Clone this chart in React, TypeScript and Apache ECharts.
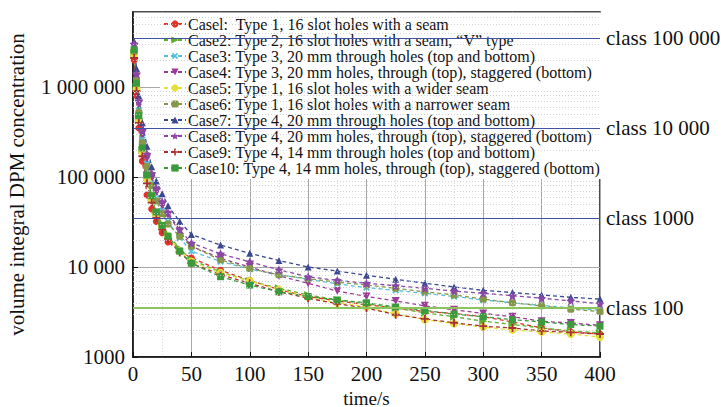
import React, { useEffect, useRef } from "react";
import * as echarts from "echarts";

// Sampling times (s) shared by all cases
const TIMES = [1, 3, 5, 8, 12, 16, 20, 25, 30, 40, 50, 75, 100, 125, 150, 175, 200, 225, 250, 275, 300, 325, 350, 375, 400];

const CASE_NAMES = [
  "Casel:  Type 1, 16 slot holes with a seam",
  "Case2: Type 2, 16 slot holes with a seam, \u201cV\u201d type",
  "Case3: Type 3, 20 mm through holes (top and bottom)",
  "Case4: Type 3, 20 mm holes, through (top), staggered (bottom)",
  "Case5: Type 1, 16 slot holes with a wider seam",
  "Case6: Type 1, 16 slot holes with a narrower seam",
  "Case7: Type 4, 20 mm through holes (top and bottom)",
  "Case8: Type 4, 20 mm holes, through (top), staggered (bottom)",
  "Case9: Type 4, 14 mm through holes (top and bottom)",
  "Case10: Type 4, 14 mm holes, through (top), staggered (bottom)",
];

// Volume integral DPM concentration per case, one value per entry of TIMES
const CASE1 = [2.0e6, 8e5, 3.5e5, 1.5e5, 6.3e4, 4.4e4, 3.2e4, 2.4e4, 1.9e4, 1.5e4, 1.26e4, 9.2e3, 7.1e3, 5.6e3, 4.7e3, 4.2e3, 3.8e3, 3.5e3, 3.2e3, 3.05e3, 2.8e3, 2.45e3, 2.1e3, 1.9e3, 1.8e3];
const CASE2 = [2.4e6, 1.0e6, 4.5e5, 2e5, 1e5, 6e4, 4e4, 3e4, 2.3e4, 1.6e4, 1.2e4, 8.8e3, 7.0e3, 5.8e3, 4.9e3, 4.3e3, 3.9e3, 3.5e3, 3.1e3, 2.8e3, 2.5e3, 2.3e3, 2.1e3, 1.95e3, 1.85e3];
const CASE3 = [2.6e6, 1.2e6, 5.5e5, 2.6e5, 1.4e5, 8.5e4, 5.8e4, 4.2e4, 3.2e4, 2.1e4, 1.5e4, 1.15e4, 9.5e3, 8.2e3, 7.3e3, 6.5e3, 5.9e3, 5.5e3, 5.1e3, 4.7e3, 4.3e3, 4.0e3, 3.75e3, 3.5e3, 3.3e3];
const CASE4 = [2.8e6, 1.3e6, 6.5e5, 3e5, 1.6e5, 1e5, 6.8e4, 4.8e4, 3.8e4, 2.5e4, 1.7e4, 1.25e4, 1.0e4, 8.0e3, 6.6e3, 5.4e3, 4.7e3, 4.2e3, 3.7e3, 3.35e3, 3.05e3, 2.8e3, 2.5e3, 2.38e3, 2.25e3];
const CASE5 = [2.3e6, 9.5e5, 4.2e5, 1.9e5, 9.5e4, 5.6e4, 3.8e4, 2.8e4, 2.2e4, 1.5e4, 1.15e4, 8.6e3, 7.0e3, 5.6e3, 4.6e3, 4.0e3, 3.6e3, 3.0e3, 2.6e3, 2.35e3, 2.15e3, 2.0e3, 1.9e3, 1.8e3, 1.67e3];
const CASE6 = [2.5e6, 1.2e6, 5.2e5, 2.4e5, 1.3e5, 8e4, 5.4e4, 3.9e4, 3.0e4, 2.2e4, 1.7e4, 1.2e4, 9.6e3, 8.2e3, 7.4e3, 6.8e3, 6.3e3, 5.8e3, 5.3e3, 4.9e3, 4.4e3, 4.0e3, 3.7e3, 3.4e3, 3.2e3];
const CASE7 = [3.2e6, 1.6e6, 8e5, 4e5, 2.2e5, 1.3e5, 9e4, 6.5e4, 4.8e4, 3.2e4, 2.3e4, 1.75e4, 1.42e4, 1.18e4, 1.0e4, 9.0e3, 8.1e3, 7.3e3, 6.6e3, 6.0e3, 5.5e3, 5.2e3, 4.9e3, 4.6e3, 4.4e3];
const CASE8 = [3.0e6, 1.4e6, 7e5, 3.3e5, 1.8e5, 1.1e5, 7.5e4, 5.3e4, 4.0e4, 2.6e4, 1.85e4, 1.4e4, 1.14e4, 9.3e3, 7.8e3, 7.1e3, 6.6e3, 6.2e3, 5.8e3, 5.4e3, 5.1e3, 4.8e3, 4.5e3, 4.2e3, 3.9e3];
const CASE9 = [2.1e6, 9e5, 4e5, 1.7e5, 8.5e4, 5.2e4, 3.5e4, 2.6e4, 2.05e4, 1.45e4, 1.1e4, 8.2e3, 6.6e3, 5.3e3, 4.5e3, 3.9e3, 3.5e3, 2.95e3, 2.65e3, 2.4e3, 2.2e3, 2.1e3, 1.95e3, 1.88e3, 1.8e3];
const CASE10 = [2.6e6, 1.1e6, 4.8e5, 2.1e5, 1.05e5, 6.2e4, 4.1e4, 2.9e4, 2.2e4, 1.5e4, 1.1e4, 7.8e3, 6.3e3, 5.3e3, 4.7e3, 4.3e3, 4.0e3, 3.6e3, 3.3e3, 3.0e3, 2.8e3, 2.6e3, 2.45e3, 2.3e3, 2.2e3];

const CASE_VALUES = [CASE1, CASE2, CASE3, CASE4, CASE5, CASE6, CASE7, CASE8, CASE9, CASE10];

// Cleanroom class limits (particles per m^3)
const CLASS_LABELS = ["class 100 000", "class 10 000", "class 1000", "class 100"];
const CLASS_LIMITS = [3520000, 352000, 35200, 3520];

// Minor (dotted) grid values inside each decade
const MINOR_Y = [2, 3, 4, 5, 6, 7, 8, 9].flatMap((m) => [1e3, 1e4, 1e5, 1e6].map((d) => m * d)).filter((v) => v < 6.8e6);

const FONT = "'Liberation Serif', 'Times New Roman', serif";

const STAR = "path://M0,-10L2.9,-4L9.5,-3.1L4.8,1.5L5.9,8.1L0,5L-5.9,8.1L-4.8,1.5L-9.5,-3.1L-2.9,-4Z";
const PLUS = "path://M-1.6,-7H1.6V-1.6H7V1.6H1.6V7H-1.6V1.6H-7V-1.6H-1.6Z";

const STYLES = [
  { color: "#e2342c", symbol: "circle", size: 7, rotate: 0 },
  { color: "#5fae2e", symbol: "triangle", size: 8, rotate: -90 },
  { color: "#55c0d6", symbol: PLUS, size: 8, rotate: 45 },
  { color: "#9a3c98", symbol: "triangle", size: 8, rotate: 180 },
  { color: "#e4e03a", symbol: "circle", size: 8, rotate: 0 },
  { color: "#85984a", symbol: "roundRect", size: 7, rotate: 0 },
  { color: "#3b4892", symbol: "triangle", size: 7, rotate: 0 },
  { color: "#8b47a6", symbol: STAR, size: 9, rotate: 0 },
  { color: "#a83232", symbol: PLUS, size: 8, rotate: 0 },
  { color: "#3b9a3b", symbol: "rect", size: 7, rotate: 0 },
];

// Group digits in threes, e.g. 1 000 000 (four-digit numbers stay whole)
const fmtThousands = (v: number) => {
  const s = String(Math.round(v));
  if (s.length <= 4) return s;
  return s.replace(/\B(?=(\d{3})+(?!\d))/g, " ");
};

export default function App() {
  const ref = useRef<HTMLDivElement>(null);

  useEffect(() => {
    if (!ref.current) return;
    const chart = echarts.init(ref.current, null, { renderer: "svg" });

    const caseSeries = CASE_VALUES.map((vals, i) => ({
      name: CASE_NAMES[i],
      type: "line",
      data: TIMES.map((t, k) => [t, vals[k]]),
      symbol: STYLES[i].symbol,
      symbolSize: STYLES[i].size,
      symbolRotate: STYLES[i].rotate,
      showSymbol: true,
      itemStyle: { color: STYLES[i].color },
      lineStyle: { color: STYLES[i].color, width: 1.3, type: [4, 3] },
      z: 3,
    }));

    const gridSeries = {
      name: "minor-grid",
      type: "line",
      data: [],
      silent: true,
      z: 1,
      markLine: {
        silent: true,
        symbol: "none",
        animation: false,
        label: { show: false },
        lineStyle: { color: "#c8c8c8", width: 0.8, type: [1, 2] },
        data: MINOR_Y.map((v) => ({ yAxis: v })),
      },
    };

    const classSeries = {
      name: "class-limits",
      type: "line",
      data: [],
      silent: true,
      z: 2,
      markLine: {
        silent: true,
        symbol: "none",
        animation: false,
        data: CLASS_LIMITS.map((v, i) => ({
          yAxis: v,
          lineStyle: {
            color: i === 3 ? "#8cc35c" : "#3f54a0",
            width: i === 3 ? 2 : 1.2,
            type: "solid",
          },
          label: {
            show: true,
            position: "end",
            formatter: CLASS_LABELS[i],
            distance: 6,
            color: "#111",
            fontFamily: FONT,
            fontSize: 21,
          },
        })),
      },
    };

    chart.setOption({
      animation: false,
      backgroundColor: "#fff",
      textStyle: { fontFamily: FONT },
      grid: {
        left: 133,
        right: 121,
        top: 12,
        bottom: 50,
        containLabel: false,
        outerBoundsMode: "none",
        show: true,
        borderColor: "#111",
        borderWidth: 1.5,
        backgroundColor: "transparent",
      },
      legend: {
        data: CASE_NAMES,
        orient: "vertical",
        left: 160,
        top: 13,
        itemWidth: 22,
        itemHeight: 9,
        itemGap: 0,
        padding: [3, 4, 3, 3],
        backgroundColor: "#fff",
        textStyle: {
          fontFamily: FONT,
          fontSize: 16,
          lineHeight: 15.6,
          color: "#111",
          padding: [0, 0, 0, -3],
        },
        selectedMode: false,
        z: 5,
      },
      xAxis: {
        type: "value",
        min: 0,
        max: 400,
        interval: 50,
        name: "time/s",
        nameLocation: "middle",
        nameGap: 22,
        nameTextStyle: { fontFamily: FONT, fontSize: 19, lineHeight: 19, color: "#111" },
        axisLine: { show: true, lineStyle: { color: "#111", width: 1.5 } },
        axisTick: { show: true, inside: true, length: 5, lineStyle: { color: "#111" } },
        axisLabel: { fontFamily: FONT, fontSize: 21, color: "#111", margin: 6 },
        splitLine: { show: true, lineStyle: { color: "#a8a8a8", width: 1 } },
        minorTick: { show: false, splitNumber: 2 },
        minorSplitLine: { show: true, lineStyle: { color: "#cfcfcf", width: 0.8, type: [1, 2] } },
      },
      yAxis: {
        type: "log",
        logBase: 10,
        min: 1000,
        max: 6.81e6,
        name: "volume integral DPM concentration",
        nameLocation: "middle",
        nameGap: 106,
        nameTextStyle: { fontFamily: FONT, fontSize: 21, color: "#111" },
        axisLine: { show: true, lineStyle: { color: "#111", width: 1.5 } },
        axisTick: { show: true, inside: true, length: 5, lineStyle: { color: "#111" } },
        axisLabel: {
          fontFamily: FONT,
          fontSize: 21,
          color: "#111",
          margin: 8,
          showMaxLabel: false,
          formatter: (v: number) => (v > 2e6 ? "" : fmtThousands(v)),
        },
        splitLine: { show: true, lineStyle: { color: "#a8a8a8", width: 1 } },
      },
      series: [gridSeries, classSeries, ...caseSeries],
    });

    return () => chart.dispose();
  }, []);

  return (
    <div
      ref={ref}
      style={{ position: "fixed", left: 0, top: 0, width: 721, height: 407 }}
    />
  );
}
